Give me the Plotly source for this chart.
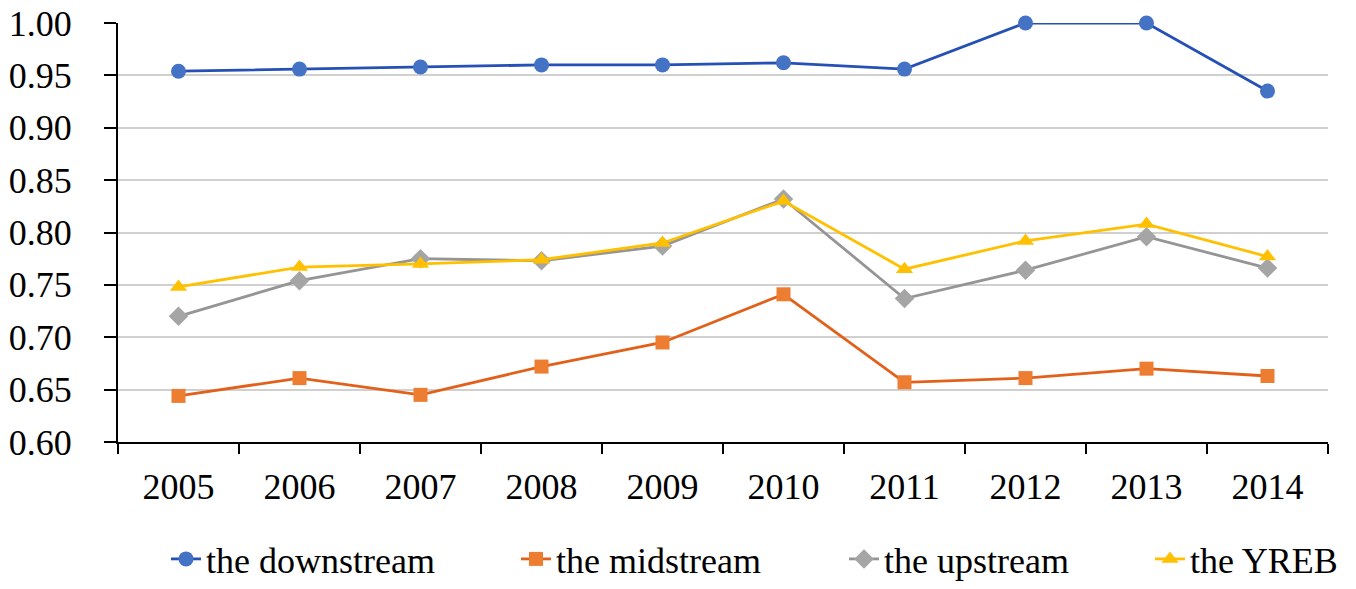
import plotly.graph_objects as go

years = ["2005", "2006", "2007", "2008", "2009", "2010", "2011", "2012", "2013", "2014"]
downstream = [0.954, 0.956, 0.958, 0.960, 0.960, 0.962, 0.956, 1.000, 1.000, 0.935]
midstream = [0.644, 0.661, 0.645, 0.672, 0.695, 0.741, 0.657, 0.661, 0.670, 0.663]
upstream = [0.720, 0.754, 0.775, 0.773, 0.787, 0.832, 0.737, 0.764, 0.796, 0.766]
yreb = [0.748, 0.767, 0.770, 0.774, 0.790, 0.830, 0.765, 0.792, 0.808, 0.777]
y_ticks = [0.60, 0.65, 0.70, 0.75, 0.80, 0.85, 0.90, 0.95, 1.00]

series = [
    ("the downstream", downstream, "#2550B5", "#4472C4", "circle", 15, "legend"),
    ("the midstream", midstream, "#E2601A", "#ED7D31", "square", 14, "legend2"),
    ("the upstream", upstream, "#959595", "#A5A5A5", "diamond", 15, "legend3"),
    ("the YREB", yreb, "#FFC000", "#FFC000", "triangle-up", 15, "legend4"),
]
# left text edge (px) of each legend entry in the reference
legend_text_x = [208, 558, 886, 1192]

W, H = 1356, 589
font_family = "Liberation Serif, Times New Roman, serif"

fig = go.Figure()
for name, vals, lc, mc, sym, ms, lg in series:
    fig.add_trace(go.Scatter(
        x=years, y=vals, name=name, mode="lines+markers",
        line=dict(color=lc, width=2.8),
        marker=dict(symbol=sym, size=ms, color=mc, line=dict(width=0)),
        cliponaxis=False, legend=lg,
    ))

legends = {}
for i, tx in enumerate(legend_text_x):
    key = "legend" if i == 0 else f"legend{i + 1}"
    legends[key] = dict(
        orientation="h", xref="container", x=(tx - 42) / W, xanchor="left",
        yref="container", y=0, yanchor="bottom",
        font=dict(size=36, family=font_family, color="black"),
        bgcolor="rgba(0,0,0,0)", borderwidth=0,
    )

fig.update_layout(
    width=W, height=H,
    margin=dict(l=118, r=28, t=23, b=147, autoexpand=False),
    plot_bgcolor="white", paper_bgcolor="white",
    font=dict(family=font_family, size=36, color="black"),
    showlegend=True,
    **legends,
)
fig.update_xaxes(
    type="category", range=[-0.5, 9.5], tickson="boundaries",
    showline=True, linecolor="black", linewidth=2,
    ticks="outside", ticklen=10, tickwidth=2, tickcolor="black",
    showgrid=False, ticklabelstandoff=12,
    tickfont=dict(size=36, family=font_family),
)
fig.update_yaxes(
    range=[0.60, 1.00], tickvals=y_ticks, ticktext=[f"{v:.2f}" for v in y_ticks],
    showline=True, linecolor="black", linewidth=2,
    ticks="outside", ticklen=12, tickwidth=2, tickcolor="black",
    showgrid=True, gridcolor="#D0D0D0", gridwidth=2,
    zeroline=False, ticklabelstandoff=25,
    tickfont=dict(size=36, family=font_family),
)
fig.write_html("out.html", config={"displayModeBar": False},
               post_script="document.body.style.margin='0';")
